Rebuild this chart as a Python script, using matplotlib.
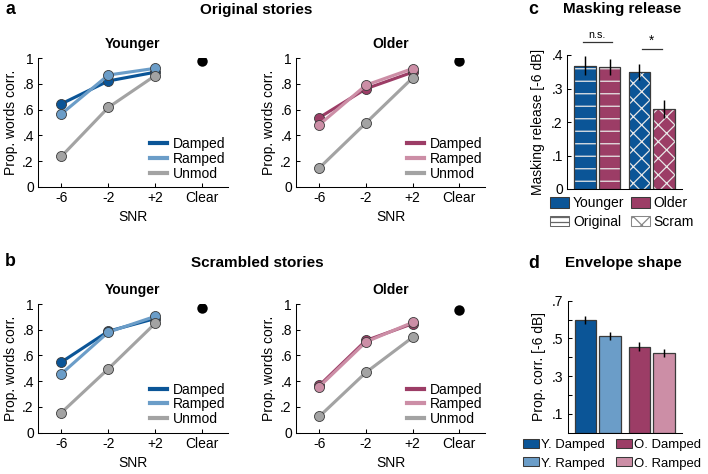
import matplotlib
matplotlib.use("Agg")
import matplotlib.pyplot as plt
from matplotlib.patches import Patch
from matplotlib.lines import Line2D

plt.rcParams['font.family'] = ['Liberation Sans', 'DejaVu Sans']
plt.rcParams['hatch.linewidth'] = 0.6

# ---- data ----
snr_labels = ["-6", "-2", "+2", "Clear"]
conditions = ["Damped", "Ramped", "Unmod"]

orig_young = {"Damped": [0.645, 0.822, 0.89], "Ramped": [0.567, 0.868, 0.92], "Unmod": [0.238, 0.617, 0.864]}
orig_young_clear = 0.978
orig_old = {"Damped": [0.538, 0.762, 0.89], "Ramped": [0.483, 0.79, 0.918], "Unmod": [0.148, 0.497, 0.846]}
orig_old_clear = 0.978
scr_young = {"Damped": [0.548, 0.788, 0.887], "Ramped": [0.457, 0.781, 0.904], "Unmod": [0.155, 0.496, 0.85]}
scr_young_clear = 0.969
scr_old = {"Damped": [0.366, 0.716, 0.847], "Ramped": [0.357, 0.705, 0.857], "Unmod": [0.125, 0.468, 0.741]}
scr_old_clear = 0.953

mr_labels = ["Younger Original", "Older Original", "Younger Scram", "Older Scram"]
mr_values = [0.368, 0.365, 0.349, 0.239]
mr_err = [0.028, 0.024, 0.025, 0.026]

env_labels = ["Y. Damped", "Y. Ramped", "O. Damped", "O. Ramped"]
env_values = [0.598, 0.512, 0.456, 0.423]
env_err = [0.023, 0.021, 0.023, 0.021]

# ---- colours ----
c_young_d = "#0b5597"
c_young_r = "#6b9dc8"
c_old_d = "#9c3d66"
c_old_r = "#cc8ea6"
c_gray = "#a3a3a3"
edge = "#3a3a3a"

W, H = 708, 474
fig = plt.figure(figsize=(W / 150, H / 150), dpi=150)


def px_axes(left, top, right, bottom):
    return fig.add_axes([left / W, 1 - bottom / H, (right - left) / W, (bottom - top) / H])


def style(ax):
    ax.spines['top'].set_visible(False)
    ax.spines['right'].set_visible(False)
    for s in ax.spines.values():
        s.set_linewidth(0.5)
    ax.tick_params(direction='in', length=2, width=0.5, labelsize=6.7, pad=2)


def line_panel(ax, data, clear, cols, title):
    x = [1, 2, 3]
    for cond, col in zip(conditions, cols):
        ax.plot(x, data[cond], color=col, lw=1.5, marker='o', ms=4.8,
                mfc=col, mec=edge, mew=0.4, label=cond)
    ax.plot([4], [clear], 'o', color='black', ms=4)
    ax.set_xlim(0.5, 4.55)
    ax.set_ylim(0, 1)
    ax.set_xticks([1, 2, 3, 4])
    ax.set_xticklabels(snr_labels)
    ax.set_yticks([0, 0.2, 0.4, 0.6, 0.8, 1])
    ax.set_yticklabels(["0", ".2", ".4", ".6", ".8", "1"])
    ax.set_xlabel("SNR", fontsize=6.7, labelpad=2.5)
    ax.set_ylabel("Prop. words corr.", fontsize=6.7, labelpad=2)
    ax.set_title(title, fontsize=6.7, fontweight='bold', pad=5)
    style(ax)
    handles = [Line2D([], [], color=c, lw=2) for c in cols]
    ax.legend(handles, conditions, loc='lower right', bbox_to_anchor=(0.985, 0.05),
              frameon=False, fontsize=6.7, handlelength=1.25, handletextpad=0.4,
              labelspacing=0.05, borderpad=0, borderaxespad=0)


young_cols = [c_young_d, c_young_r, c_gray]
old_cols = [c_old_d, c_old_r, c_gray]

ax1 = px_axes(38, 58, 228, 187)
line_panel(ax1, orig_young, orig_young_clear, young_cols, "Younger")
ax2 = px_axes(296, 58, 485, 187)
line_panel(ax2, orig_old, orig_old_clear, old_cols, "Older")
ax3 = px_axes(38, 304, 228, 432.5)
line_panel(ax3, scr_young, scr_young_clear, young_cols, "Younger")
ax4 = px_axes(296, 304, 485, 432.5)
line_panel(ax4, scr_old, scr_old_clear, old_cols, "Older")

# ---- panel c ----
axc = px_axes(567, 55, 682, 189)
pos = [1, 2, 3.2, 4.2]
bw = 0.86
mr_cols = [c_young_d, c_old_d, c_young_d, c_old_d]
mr_hatch = ['--', '--', 'xxx', 'xxx']
for p, v, col, h in zip(pos, mr_values, mr_cols, mr_hatch):
    axc.bar(p, v, bw, color=col, edgecolor='#e8e8e8', hatch=h, lw=0)
    axc.bar(p, v, bw, fill=False, edgecolor=edge, lw=0.6)
axc.errorbar(pos, mr_values, yerr=mr_err, fmt='none', ecolor='black', elinewidth=0.7, capsize=0)
axc.set_xlim(0.27, 4.93)
axc.set_ylim(0, 0.4)
axc.set_xticks([])
axc.set_yticks([0, 0.1, 0.2, 0.3, 0.4])
axc.set_yticklabels(["0", ".1", ".2", ".3", ".4"])
axc.set_ylabel("Masking release [-6 dB]", fontsize=6.7, labelpad=3)
style(axc)
axc.plot([pos[0] - 0.1, pos[1] + 0.1], [0.44, 0.44], color='#333333', lw=0.6, clip_on=False)
axc.text((pos[0] + pos[1]) / 2, 0.445, "n.s.", ha='center', va='bottom', fontsize=5.2, clip_on=False)
axc.plot([pos[2] + 0.1, pos[3] - 0.1], [0.418, 0.418], color='#333333', lw=0.6, clip_on=False)
axc.text((pos[2] + pos[3]) / 2, 0.422, "*", ha='center', va='bottom', fontsize=6.5, clip_on=False)
hc = [Patch(facecolor=c_young_d, edgecolor=edge, lw=0.5),
      Patch(facecolor='white', edgecolor='#666666', hatch='-----', lw=0.5),
      Patch(facecolor=c_old_d, edgecolor=edge, lw=0.5),
      Patch(facecolor='white', edgecolor='#888888', hatch='xxx', lw=0.5)]
axc.legend(hc, ["Younger", "Original", "Older", "Scram"], ncol=2, loc='upper left',
           bbox_to_anchor=(-0.148, -0.055), frameon=False, fontsize=6.7,
           handlelength=1.35, handleheight=0.75, handletextpad=0.3, columnspacing=0.45,
           labelspacing=0.32, borderpad=0, borderaxespad=0)

# ---- panel d ----
axd = px_axes(567.5, 300.7, 682, 432.7)
env_cols = [c_young_d, c_young_r, c_old_d, c_old_r]
axd.bar(pos, env_values, bw, color=env_cols, edgecolor=edge, lw=0.6)
axd.errorbar(pos, env_values, yerr=env_err, fmt='none', ecolor='black', elinewidth=0.7, capsize=0)
axd.set_xlim(0.27, 4.93)
axd.set_ylim(0, 0.7)
axd.set_xticks([])
axd.set_yticks([0.1, 0.2, 0.3, 0.4, 0.5, 0.6, 0.7])
axd.set_yticklabels([".1", "", ".3", "", ".5", "", ".7"])
axd.set_ylabel("Prop. corr. [-6 dB]", fontsize=6.7, labelpad=3)
style(axd)
hd = [Patch(facecolor=c, edgecolor=edge, lw=0.5) for c in env_cols]
axd.legend(hd, env_labels, ncol=2, loc='upper left',
           bbox_to_anchor=(-0.389, -0.048), frameon=False, fontsize=6.3,
           handlelength=1.2, handleheight=0.68, handletextpad=0.15, columnspacing=0.9,
           labelspacing=0.48, borderpad=0, borderaxespad=0)

# ---- panel labels & titles ----
fig.text(5 / W, 1 - 10 / H, "a", fontsize=8.5, fontweight='bold', va='center')
fig.text(5 / W, 1 - 262 / H, "b", fontsize=8.5, fontweight='bold', va='center')
fig.text(528 / W, 1 - 9 / H, "c", fontsize=8.5, fontweight='bold', va='center')
fig.text(528 / W, 1 - 263 / H, "d", fontsize=8.5, fontweight='bold', va='center')
fig.text(256 / W, 1 - 10 / H, "Original stories", fontsize=7.3, fontweight='bold', ha='center', va='center')
fig.text(257 / W, 1 - 263 / H, "Scrambled stories", fontsize=7.3, fontweight='bold', ha='center', va='center')
fig.text(622 / W, 1 - 9 / H, "Masking release", fontsize=7.3, fontweight='bold', ha='center', va='center')
fig.text(623 / W, 1 - 263 / H, "Envelope shape", fontsize=7.3, fontweight='bold', ha='center', va='center')

fig.savefig("out.png", dpi=150)
